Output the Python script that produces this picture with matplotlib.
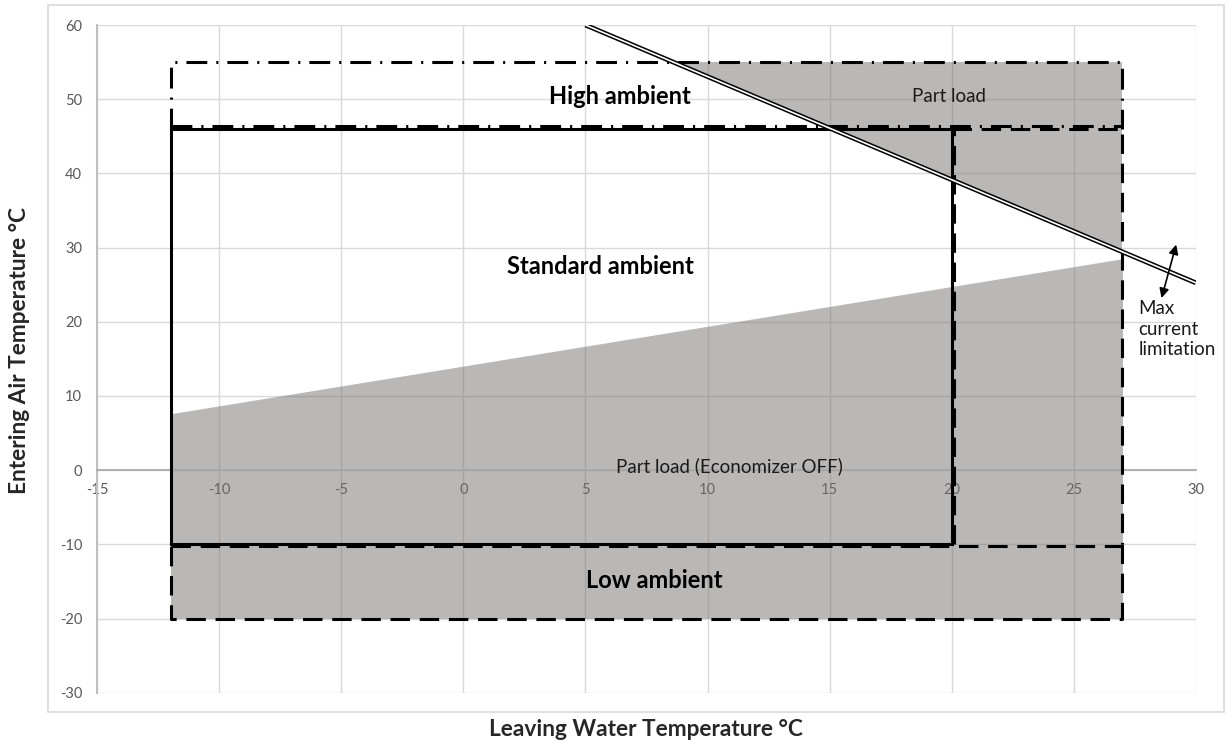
import numpy as np
import matplotlib
matplotlib.use("Agg")
import matplotlib.pyplot as plt
from matplotlib.patches import Rectangle
from matplotlib.transforms import offset_copy

plt.rcParams['font.family'] = ['Lato', 'DejaVu Sans']
plt.rcParams['lines.scale_dashes'] = False
plt.rcParams['axes.unicode_minus'] = False

# axis ticks
x_ticks = [-15, -10, -5, 0, 5, 10, 15, 20, 25, 30]
y_ticks = [-30, -20, -10, 0, 10, 20, 30, 40, 50, 60]

# operating envelopes (leaving water T, entering air T)
standard_x = [-12, 20]
standard_y = [-10, 46]
high_x = [-12, 27]
high_y = [46, 55]
low_x = [-12, 27]
low_y = [-20, -10]
right_x = [20, 27]
right_y = [-10, 46]

# max current limitation line
maxcur_x = [5, 30]
maxcur_y = [60, 25.25]

# economizer-off boundary (part load below it)
econ_x = [-12, 27]
econ_y = [7.6, 28.5]


def box(x, y):
    return [x[0], x[1], x[1], x[0], x[0]], [y[0], y[0], y[1], y[1], y[0]]


fig = plt.figure(figsize=(12.27, 7.47), dpi=100)
ax = fig.add_axes([0.0793, 0.0727, 0.8952, 0.8938])

# outer chart frame
fig.patches.append(Rectangle((48 / 1227, 1 - 712 / 747), (1224 - 48) / 1227, (712 - 5) / 747,
                             transform=fig.transFigure, fill=False, ec='#d9d9d9', lw=1.2))

ax.set_xlim(x_ticks[0], x_ticks[-1])
ax.set_ylim(y_ticks[0], y_ticks[-1])
ax.set_xticks(x_ticks)
ax.set_yticks(y_ticks)
ax.grid(True, color='#d9d9d9', lw=1.0, zorder=0)
ax.set_axisbelow(True)

for s in ['top', 'right']:
    ax.spines[s].set_visible(False)
ax.spines['bottom'].set_position(('data', 0))
ax.spines['bottom'].set_color('#a6a6a6')
ax.spines['bottom'].set_linewidth(1.2)
ax.spines['left'].set_color('#bfbfbf')
ax.spines['left'].set_linewidth(1.5)
ax.tick_params(axis='x', length=0, pad=9, labelsize=10.5, labelcolor='#595959')
ax.tick_params(axis='y', length=0, pad=11, labelsize=10.5, labelcolor='#595959')

fill_kw = dict(color='#777370', alpha=0.5, lw=0, zorder=1)

# part load with economizer off: under the sloped boundary
ex = np.array(econ_x)
ax.fill_between(ex, low_y[0], econ_y, **fill_kw)

# part load above the max current line
y_at_top = high_y[1]
x_at_top = np.interp(y_at_top, maxcur_y[::-1], maxcur_x[::-1])
y_at_right = np.interp(high_x[1], maxcur_x, maxcur_y)
ax.fill([x_at_top, high_x[1], high_x[1]], [y_at_top, y_at_top, y_at_right], **fill_kw)

# shared edges sit a couple of pixels off the solid box so both stay visible
down = offset_copy(ax.transData, fig=fig, x=0, y=-2, units='dots')
right = offset_copy(ax.transData, fig=fig, x=2, y=0, units='dots')
up = offset_copy(ax.transData, fig=fig, x=0, y=2.5, units='dots')

lw = 2.2
dash = dict(color='black', lw=lw, ls=(0, (14, 7)), zorder=4)
dashdot = dict(color='black', lw=lw, ls=(0, (15, 6.5, 1.5, 6.5)), zorder=4)

ax.plot(*box(standard_x, standard_y), color='black', lw=lw, zorder=3, solid_joinstyle='miter')

# low ambient: top edge shared with the standard box
ax.plot([low_x[1], low_x[1], low_x[0], low_x[0]], [low_y[1], low_y[0], low_y[0], low_y[1]], **dash)
ax.plot(low_x, [low_y[1], low_y[1]], transform=down, **dash)

# right strip: left edge shared with the standard box
ax.plot([right_x[0], right_x[1], right_x[1]], [right_y[1], right_y[1], right_y[0]], **dash)
ax.plot([right_x[0], right_x[0]], right_y, transform=right, **dash)

# high ambient: bottom edge shared with the standard box
ax.plot([high_x[0], high_x[0], high_x[1], high_x[1]], [high_y[0], high_y[1], high_y[1], high_y[0]],
        **dashdot)
ax.plot(high_x, [high_y[0], high_y[0]], transform=up, **dashdot)

# double line for max current
ax.plot(maxcur_x, maxcur_y, color='black', lw=3.4, zorder=5, solid_capstyle='butt')
ax.plot(maxcur_x, maxcur_y, color='white', lw=1.2, zorder=6, solid_capstyle='butt')

ax.annotate('', xy=(29.2, 30.4), xytext=(28.6, 23.2),
            arrowprops=dict(arrowstyle='<|-|>', color='black', lw=1.2,
                            mutation_scale=14, shrinkA=0, shrinkB=0), zorder=7)

txt = '#1a1a1a'
ax.text(6.4, 50.3, 'High ambient', ha='center', va='center', fontsize=17,
        fontweight='bold', color='black', zorder=8)
ax.text(5.6, 27.4, 'Standard ambient', ha='center', va='center', fontsize=17,
        fontweight='bold', color='black', zorder=8)
ax.text(7.8, -14.9, 'Low ambient', ha='center', va='center', fontsize=17,
        fontweight='bold', color='black', zorder=8)
ax.text(19.9, 50.3, 'Part load', ha='center', va='center', fontsize=13.5, color=txt, zorder=8)
ax.text(10.9, 0.5, 'Part load (Economizer OFF)', ha='center', va='center', fontsize=13.5,
        color=txt, zorder=8)
ax.text(27.65, 22.9, 'Max\ncurrent\nlimitation', ha='left', va='top', fontsize=13.5,
        color=txt, linespacing=1.25, zorder=8)

fig.text(646 / 1227, 1 - 730 / 747, 'Leaving Water Temperature °C', ha='center', va='center',
         fontsize=16.3, fontweight='bold', color='#262626')
fig.text(20 / 1227, 1 - 350 / 747, 'Entering Air Temperature °C', ha='center', va='center',
         rotation=90, fontsize=16.3, fontweight='bold', color='#262626')

fig.savefig('out.png', dpi=100)
